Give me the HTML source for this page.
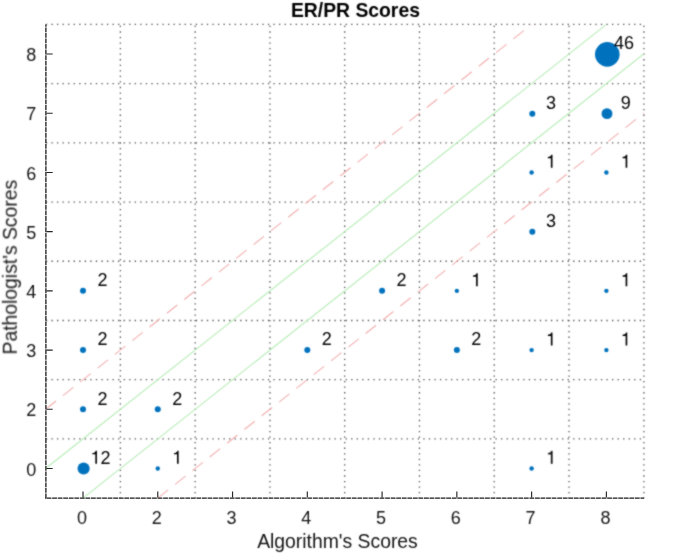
<!DOCTYPE html>
<html><head><meta charset="utf-8"><style>
html,body{margin:0;padding:0;background:#fff;}
body{width:675px;height:553px;overflow:hidden;}
svg{display:block;}
text{font-family:"Liberation Sans",sans-serif;}
.t{will-change:transform;}
</style></head><body>
<svg width="675" height="553" viewBox="0 0 675 553">
<filter id="bl" color-interpolation-filters="sRGB" filterUnits="userSpaceOnUse" x="0" y="0" width="675" height="553"><feConvolveMatrix order="3" kernelMatrix="1 2 1 2 10 2 1 2 1" divisor="22" edgeMode="duplicate"/></filter>
<g filter="url(#bl)">
<rect width="675" height="553" fill="#fff"/>
<path d="M45.90 438.90H643.90 M45.90 379.69H643.90 M45.90 320.48H643.90 M45.90 261.26H643.90 M45.90 202.06H643.90 M45.90 142.85H643.90 M45.90 83.63H643.90 M45.90 24.40H643.90" stroke="#505050" stroke-width="1.3" stroke-dasharray="1.3 4.25" fill="none"/>
<path d="M120.38 24.40V498.10 M195.16 24.40V498.10 M269.93 24.40V498.10 M344.69 24.40V498.10 M419.46 24.40V498.10 M494.24 24.40V498.10 M569.00 24.40V498.10 M643.90 24.40V498.10" stroke="#505050" stroke-width="1.3" stroke-dasharray="1.3 4.25" stroke-dashoffset="-1.4" fill="none"/>
<clipPath id="c"><rect x="45.9" y="24.4" width="598.0" height="473.70000000000005"/></clipPath>
<g clip-path="url(#c)"><path d="M45.62 468.50L606.39 24.43 M83.00 498.11L643.77 54.03" stroke="#b6ecb6" stroke-width="1.1" fill="none"/><path d="M45.62 409.29L531.62 24.43" stroke="#f3aeae" stroke-width="1.1" stroke-dasharray="13.3 8.8" fill="none"/><path d="M157.77 498.11L643.77 113.24" stroke="#f3aeae" stroke-width="1.1" stroke-dasharray="13.3 8.8" fill="none"/></g>
<g class="t"><text x="36.2" y="475.60" font-size="18" fill="#141414" color="#141414" text-anchor="end">0</text><text x="82.00" y="523.6" font-size="18" fill="#141414" color="#141414" text-anchor="middle">0</text><text x="36.2" y="416.39" font-size="18" fill="#141414" color="#141414" text-anchor="end">2</text><text x="156.77" y="523.6" font-size="18" fill="#141414" color="#141414" text-anchor="middle">2</text><text x="36.2" y="357.18" font-size="18" fill="#141414" color="#141414" text-anchor="end">3</text><text x="231.54" y="523.6" font-size="18" fill="#141414" color="#141414" text-anchor="middle">3</text><text x="36.2" y="297.97" font-size="18" fill="#141414" color="#141414" text-anchor="end">4</text><text x="306.31" y="523.6" font-size="18" fill="#141414" color="#141414" text-anchor="middle">4</text><text x="36.2" y="238.76" font-size="18" fill="#141414" color="#141414" text-anchor="end">5</text><text x="381.08" y="523.6" font-size="18" fill="#141414" color="#141414" text-anchor="middle">5</text><text x="36.2" y="179.55" font-size="18" fill="#141414" color="#141414" text-anchor="end">6</text><text x="455.85" y="523.6" font-size="18" fill="#141414" color="#141414" text-anchor="middle">6</text><text x="36.2" y="120.34" font-size="18" fill="#141414" color="#141414" text-anchor="end">7</text><text x="530.62" y="523.6" font-size="18" fill="#141414" color="#141414" text-anchor="middle">7</text><text x="36.2" y="61.13" font-size="18" fill="#141414" color="#141414" text-anchor="end">8</text><text x="605.39" y="523.6" font-size="18" fill="#141414" color="#141414" text-anchor="middle">8</text></g>
<circle cx="607.29" cy="54.33" r="12.30" fill="#0072bd"/><circle cx="532.32" cy="113.84" r="3.00" fill="#0072bd"/><circle cx="606.99" cy="113.64" r="5.45" fill="#0072bd"/><circle cx="531.62" cy="172.45" r="2.20" fill="#0072bd"/><circle cx="606.39" cy="172.45" r="2.20" fill="#0072bd"/><circle cx="532.32" cy="231.66" r="3.00" fill="#0072bd"/><circle cx="83.00" cy="290.87" r="3.00" fill="#0072bd"/><circle cx="382.08" cy="290.87" r="3.00" fill="#0072bd"/><circle cx="456.85" cy="290.87" r="2.20" fill="#0072bd"/><circle cx="606.39" cy="290.87" r="2.20" fill="#0072bd"/><circle cx="83.00" cy="350.08" r="3.00" fill="#0072bd"/><circle cx="307.31" cy="350.08" r="3.00" fill="#0072bd"/><circle cx="456.85" cy="350.08" r="3.00" fill="#0072bd"/><circle cx="531.62" cy="350.08" r="2.20" fill="#0072bd"/><circle cx="606.39" cy="350.08" r="2.20" fill="#0072bd"/><circle cx="83.00" cy="409.29" r="3.00" fill="#0072bd"/><circle cx="157.77" cy="409.29" r="3.00" fill="#0072bd"/><circle cx="83.60" cy="468.50" r="6.05" fill="#0072bd"/><circle cx="157.77" cy="468.50" r="2.20" fill="#0072bd"/><circle cx="531.62" cy="468.50" r="2.20" fill="#0072bd"/>
<g class="t"><text x="613.89" y="49.33" font-size="18" fill="#000" color="#000">4</text><text x="623.90" y="49.33" font-size="18" fill="#000" color="#000">6</text><text x="546.02" y="108.54" font-size="18" fill="#000" color="#000">3</text><text x="620.79" y="108.54" font-size="18" fill="#000" color="#000">9</text><path transform="translate(546.02 167.75) scale(0.018 -0.018)" d="M359 0L359 722L290 722C278 665 240 620 178 606C150 600 122 597 101 597L101 527L269 527L269 0Z" fill="#000" stroke="#000" /><path transform="translate(620.79 167.75) scale(0.018 -0.018)" d="M359 0L359 722L290 722C278 665 240 620 178 606C150 600 122 597 101 597L101 527L269 527L269 0Z" fill="#000" stroke="#000" /><text x="546.02" y="226.96" font-size="18" fill="#000" color="#000">3</text><text x="97.40" y="286.17" font-size="18" fill="#000" color="#000">2</text><text x="396.48" y="286.17" font-size="18" fill="#000" color="#000">2</text><path transform="translate(471.25 286.17) scale(0.018 -0.018)" d="M359 0L359 722L290 722C278 665 240 620 178 606C150 600 122 597 101 597L101 527L269 527L269 0Z" fill="#000" stroke="#000" /><path transform="translate(620.79 286.17) scale(0.018 -0.018)" d="M359 0L359 722L290 722C278 665 240 620 178 606C150 600 122 597 101 597L101 527L269 527L269 0Z" fill="#000" stroke="#000" /><text x="97.40" y="345.38" font-size="18" fill="#000" color="#000">2</text><text x="321.71" y="345.38" font-size="18" fill="#000" color="#000">2</text><text x="471.25" y="345.38" font-size="18" fill="#000" color="#000">2</text><path transform="translate(546.02 345.38) scale(0.018 -0.018)" d="M359 0L359 722L290 722C278 665 240 620 178 606C150 600 122 597 101 597L101 527L269 527L269 0Z" fill="#000" stroke="#000" /><path transform="translate(620.79 345.38) scale(0.018 -0.018)" d="M359 0L359 722L290 722C278 665 240 620 178 606C150 600 122 597 101 597L101 527L269 527L269 0Z" fill="#000" stroke="#000" /><text x="97.40" y="404.59" font-size="18" fill="#000" color="#000">2</text><text x="172.17" y="404.59" font-size="18" fill="#000" color="#000">2</text><path transform="translate(90.50 463.80) scale(0.018 -0.018)" d="M359 0L359 722L290 722C278 665 240 620 178 606C150 600 122 597 101 597L101 527L269 527L269 0Z" fill="#000" stroke="#000" /><text x="100.51" y="463.80" font-size="18" fill="#000" color="#000">2</text><path transform="translate(172.17 463.80) scale(0.018 -0.018)" d="M359 0L359 722L290 722C278 665 240 620 178 606C150 600 122 597 101 597L101 527L269 527L269 0Z" fill="#000" stroke="#000" /><path transform="translate(546.02 463.80) scale(0.018 -0.018)" d="M359 0L359 722L290 722C278 665 240 620 178 606C150 600 122 597 101 597L101 527L269 527L269 0Z" fill="#000" stroke="#000" />
<text x="290.9" y="16.6" font-size="19.35" font-weight="bold" fill="#000" color="#000">ER/PR Scores</text>
<text x="257.15" y="548.1" font-size="19.35" fill="#141414" color="#141414">Algorithm's Scores</text>
<text transform="translate(16.8 354.5) rotate(-90)" font-size="19.35" fill="#141414" color="#141414">Pathologist's Scores</text>
</g></g>
<path d="M45.90 24.40V498.70" stroke="#1a1a1a" stroke-width="1.3" stroke-dasharray="4.8 0.75" stroke-dashoffset="-3.0" fill="none"/><path d="M45.30 498.10H644.20" stroke="#1a1a1a" stroke-width="1.3" stroke-dasharray="4.8 0.75" stroke-dashoffset="-1.3" fill="none"/>
<path d="M46.50 468.50H52.70 M83.00 497.50V491.50 M46.50 409.29H52.70 M157.77 497.50V491.50 M46.50 350.08H52.70 M232.54 497.50V491.50 M46.50 290.87H52.70 M307.31 497.50V491.50 M46.50 231.66H52.70 M382.08 497.50V491.50 M46.50 172.45H52.70 M456.85 497.50V491.50 M46.50 113.24H52.70 M531.62 497.50V491.50 M46.50 54.03H52.70 M606.39 497.50V491.50" stroke="#262626" stroke-width="1.15" fill="none"/>
</svg>
</body></html>
